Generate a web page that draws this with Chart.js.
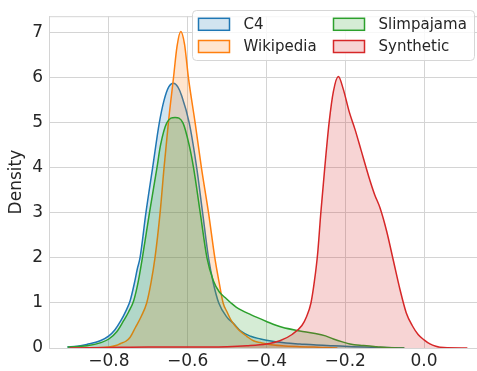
<!DOCTYPE html>
<html>
<head>
<meta charset="utf-8">
<script src="https://cdn.jsdelivr.net/npm/chart.js@4/dist/chart.umd.min.js"></script>
<style>
  html, body { margin: 0; padding: 0; background: #fff; overflow: hidden; }
  #kdeChart { display: block; }
</style>
</head>
<body>
<canvas id="kdeChart" width="477" height="371"></canvas>
<script>
// series names + colours (tab10)
const seriesNames = ['C4', 'Wikipedia', 'Slimpajama', 'Synthetic'];
const seriesColors = ['31,119,180', '255,127,14', '44,160,44', '214,39,40'];

// density curves
const c4X = [-0.905, -0.88, -0.856, -0.822, -0.80, -0.785, -0.77, -0.757, -0.746, -0.735, -0.728, -0.721, -0.706, -0.689, -0.672, -0.66, -0.648, -0.636, -0.625, -0.615, -0.596, -0.577, -0.562, -0.547, -0.535, -0.521, -0.50, -0.484, -0.466, -0.44, -0.415, -0.40, -0.35, -0.315, -0.28, -0.23, -0.18, -0.15, -0.10, -0.05];
const c4Y = [0.02, 0.04, 0.08, 0.16, 0.27, 0.4, 0.6, 0.82, 1.05, 1.45, 1.75, 2.0, 3.0, 4.0, 5.0, 5.5, 5.8, 5.88, 5.8, 5.6, 5.0, 4.0, 3.0, 2.0, 1.45, 1.0, 0.68, 0.55, 0.38, 0.26, 0.2, 0.17, 0.11, 0.09, 0.07, 0.05, 0.03, 0.02, 0.01, 0.0];

const wikiX = [-0.86, -0.80, -0.78, -0.77, -0.757, -0.746, -0.733, -0.718, -0.704, -0.693, -0.683, -0.67, -0.66, -0.649, -0.636, -0.627, -0.6175, -0.608, -0.598, -0.581, -0.565, -0.547, -0.531, -0.52, -0.51, -0.50, -0.488, -0.47, -0.45, -0.433, -0.415, -0.40, -0.36, -0.315, -0.28, -0.25, -0.22];
const wikiY = [0.0, 0.02, 0.06, 0.1, 0.15, 0.24, 0.45, 0.7, 1.0, 1.45, 2.0, 3.0, 4.0, 5.0, 6.0, 6.7, 7.03, 6.75, 6.0, 5.0, 4.0, 3.0, 2.0, 1.45, 1.0, 0.8, 0.59, 0.4, 0.26, 0.16, 0.12, 0.09, 0.05, 0.03, 0.02, 0.01, 0.0];

const slimX = [-0.905, -0.856, -0.82, -0.80, -0.78, -0.763, -0.75, -0.737, -0.726, -0.715, -0.697, -0.678, -0.669, -0.653, -0.632, -0.612, -0.596, -0.585, -0.568, -0.551, -0.535, -0.52, -0.505, -0.49, -0.477, -0.44, -0.40, -0.36, -0.315, -0.28, -0.25, -0.23, -0.205, -0.188, -0.163, -0.146, -0.12, -0.095, -0.05];
const slimY = [0.02, 0.05, 0.12, 0.2, 0.36, 0.6, 0.8, 1.05, 1.45, 2.0, 3.0, 4.0, 4.5, 5.0, 5.12, 5.0, 4.5, 4.0, 3.0, 2.0, 1.5, 1.25, 1.12, 1.0, 0.91, 0.74, 0.59, 0.46, 0.38, 0.33, 0.27, 0.2, 0.13, 0.09, 0.06, 0.05, 0.03, 0.01, 0.0];

const synthX = [-0.90, -0.80, -0.70, -0.60, -0.50, -0.45, -0.40, -0.366, -0.335, -0.31, -0.298, -0.287, -0.278, -0.27, -0.262, -0.252, -0.241, -0.23, -0.2175, -0.205, -0.19, -0.175, -0.16, -0.14, -0.125, -0.112, -0.095, -0.078, -0.061, -0.045, -0.03, -0.015, 0.0, 0.015, 0.03, 0.05, 0.11];
const synthY = [0.0, 0.01, 0.02, 0.02, 0.03, 0.05, 0.09, 0.16, 0.3, 0.5, 0.7, 1.0, 1.5, 2.1, 3.0, 4.0, 5.0, 5.7, 6.03, 5.75, 5.25, 4.85, 4.4, 3.8, 3.4, 3.12, 2.6, 1.95, 1.3, 0.78, 0.5, 0.3, 0.18, 0.09, 0.04, 0.01, 0.0];

const xTicks = [-0.8, -0.6, -0.4, -0.2, 0.0];
const yTicks = [0, 1, 2, 3, 4, 5, 6, 7];

const seriesX = [c4X, wikiX, slimX, synthX];
const seriesY = [c4Y, wikiY, slimY, synthY];

const FONT = '"DejaVu Sans", sans-serif';
const TXT = '#262626';
const GRID = '#d4d4d4';

const datasets = seriesNames.map((name, i) => ({
  label: name,
  data: seriesX[i].map((x, k) => ({ x: x, y: seriesY[i][k] })),
  borderColor: 'rgb(' + seriesColors[i] + ')',
  backgroundColor: 'rgba(' + seriesColors[i] + ',0.2)',
  borderWidth: 1.5,
  pointRadius: 0,
  cubicInterpolationMode: 'monotone',
  fill: 'origin',
  order: seriesNames.length - i   // Synthetic drawn last (on top)
}));

// frame round the axes (seaborn whitegrid spines)
const framePlugin = {
  id: 'frame',
  beforeDatasetsDraw(chart) {
    const a = chart.chartArea, ctx = chart.ctx;
    ctx.save();
    ctx.strokeStyle = GRID;
    ctx.lineWidth = 1;
    ctx.strokeRect(a.left + 0.5, a.top + 0.5, a.right - a.left, a.bottom - a.top);
    ctx.restore();
  }
};

// legend box inside the axes, 2 columns
const legendPlugin = {
  id: 'boxLegend',
  afterDraw(chart) {
    const ctx = chart.ctx;
    ctx.save();
    const bx = 192.5, by = 10.5, bw = 282, bh = 50, r = 4;
    ctx.beginPath();
    ctx.roundRect(bx, by, bw, bh, r);
    ctx.fillStyle = 'rgba(255,255,255,0.8)';
    ctx.fill();
    ctx.strokeStyle = '#d6d6d6';
    ctx.lineWidth = 1;
    ctx.stroke();

    ctx.font = '15px ' + FONT;
    ctx.textBaseline = 'middle';
    const cols = [198.5, 333.5];
    const rows = [24.3, 46.5];
    seriesNames.forEach((name, i) => {
      const col = Math.floor(i / 2), row = i % 2;
      const px = cols[col], py = rows[row];
      ctx.fillStyle = '#fff';
      ctx.fillRect(px, py - 6, 31, 12);
      ctx.fillStyle = 'rgba(' + seriesColors[i] + ',0.2)';
      ctx.fillRect(px, py - 6, 31, 12);
      ctx.strokeStyle = 'rgb(' + seriesColors[i] + ')';
      ctx.lineWidth = 1.5;
      ctx.strokeRect(px, py - 6, 31, 12);
      ctx.fillStyle = TXT;
      ctx.fillText(name, px + 45, py + 1);
    });
    ctx.restore();
  }
};

const ctx = document.getElementById('kdeChart');
const kdeChart = new Chart(ctx, {
  type: 'line',
  data: { datasets: datasets },
  options: {
    responsive: false,
    animation: false,
    maintainAspectRatio: false,
    layout: { padding: { top: 3, right: 0, left: 0, bottom: 0 } },
    plugins: {
      legend: { display: false },
      tooltip: { enabled: false }
    },
    scales: {
      x: {
        type: 'linear',
        min: -0.952,
        max: 0.1345,
        afterBuildTicks: (axis) => { axis.ticks = xTicks.map(v => ({ value: v })); },
        afterFit: (scale) => { scale.height = 23; },
        ticks: {
          color: TXT,
          font: { family: FONT, size: 17 },
          padding: 3,
          maxRotation: 0,
          callback: (v) => (v < 0 ? '\u2212' : '') + Math.abs(v).toFixed(1)
        },
        grid: { color: GRID, lineWidth: 1, drawTicks: false },
        border: { color: GRID }
      },
      y: {
        type: 'linear',
        min: 0,
        max: 7.37,
        afterBuildTicks: (axis) => { axis.ticks = yTicks.map(v => ({ value: v })); },
        afterFit: (scale) => { scale.width = 49; },
        ticks: {
          color: TXT,
          font: { family: FONT, size: 17 },
          padding: 6,
          callback: (v) => String(v)
        },
        grid: { color: GRID, lineWidth: 1, drawTicks: false },
        border: { color: GRID },
        title: {
          display: true,
          text: 'Density',
          color: TXT,
          font: { family: FONT, size: 17 },
          padding: { top: 6, bottom: 0 }
        }
      }
    }
  },
  plugins: [framePlugin, legendPlugin]
});
</script>
</body>
</html>
